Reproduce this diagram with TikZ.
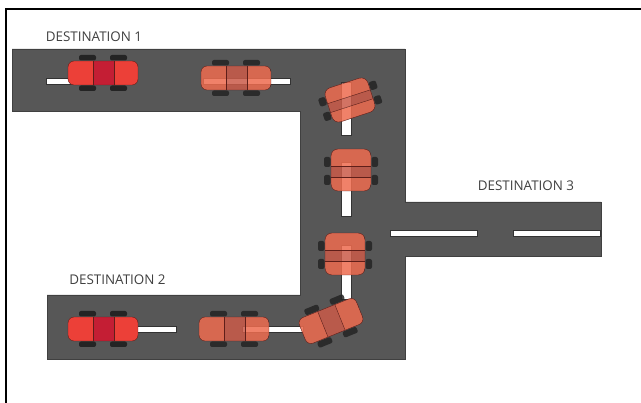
\documentclass[tikz,border=0pt]{standalone}
\usepackage{fontspec}
\setmainfont{Open Sans}

\definecolor{asphalt}{RGB}{87,87,87}
\definecolor{tyre}{RGB}{36,36,36}
\definecolor{redbody}{RGB}{236,64,56}
\definecolor{redmid}{RGB}{196,30,52}
\definecolor{ghostbody}{RGB}{238,108,79}
\definecolor{ghostmid}{RGB}{203,91,73}
\definecolor{carline}{RGB}{95,30,25}

\tikzset{
	% car seen from above, driving sideways
	pics/hcar/.style 2 args={code={
		\foreach \x in {-24,7}{
			\fill[tyre, rounded corners=2pt] (\x,-18) rectangle (\x+17,-12.5);
			\fill[tyre, rounded corners=2pt] (\x,12.5) rectangle (\x+17,18);
		}
		\begin{scope}
			\clip[rounded corners=6pt] (-35,-12) rectangle (35,12);
			\fill[#1] (-35,-12) rectangle (-10,12);
			\fill[#2] (-10,-12) rectangle (11,12);
			\fill[#1] (11,-12) rectangle (35,12);
		\end{scope}
		\draw[carline, thin, rounded corners=6pt] (-35,-12) rectangle (35,12);
		\draw[carline, thin] (-10,-12) -- (-10,12) (11,-12) -- (11,12);
	}},
	% same car, driving up the road
	pics/vcar/.style 2 args={code={
		\foreach \y in {-13,5}{
			\fill[tyre, rounded corners=2pt] (-27,\y) rectangle (-20.5,\y+10);
			\fill[tyre, rounded corners=2pt] (20.5,\y) rectangle (27,\y+10);
		}
		\begin{scope}
			\clip[rounded corners=7pt] (-20,-21) rectangle (20,21);
			\fill[#1] (-20,-21) rectangle (20,-4);
			\fill[#2] (-20,-4) rectangle (20,7);
			\fill[#1] (-20,7) rectangle (20,21);
		\end{scope}
		\draw[carline, thin, rounded corners=7pt] (-20,-21) rectangle (20,21);
		\draw[carline, thin] (-20,-4) -- (20,-4) (-20,7) -- (20,7);
	}}
}

\begin{document}
\begin{tikzpicture}[x=1pt, y=-1pt,
	ghost/.style={fill opacity=0.85},
	lane/.style={fill=white, draw=black!80, line width=0.4pt},
	destlabel/.style={font=\fontsize{13.4}{15}\selectfont, text=black!75}]
	\useasboundingbox (0,0) rectangle (641,403);
	
	%frame
	\draw[line width=1.3pt] (6,403) -- (6,9) -- (641,9);
	
	%road
	\draw[fill=asphalt, draw=black!75, line width=0.6pt] (12,49) -- (405,49) -- (405,202) -- (601,202) -- (601,256) -- (405,256) -- (405,359) -- (47,359) -- (47,295) -- (300,295) -- (300,111) -- (12,111) -- cycle;
	
	%lane marks
	\foreach \xa/\xb/\y in {46/100/81, 203/290/81, 100/176/329, 242/303/329, 390/477/233, 513/600/233}
		\draw[lane] (\xa,\y-3) rectangle (\xb,\y+3);
	\foreach \ya/\yb in {82/135, 162/216, 245/299}
		\draw[lane] (341,\ya) rectangle (351,\yb);
	
	%cars
	\pic (car1) at (103,73) {hcar={redbody}{redmid}};
	\pic[ghost] (car2) at (236,78) {hcar={ghostbody}{ghostmid}};
	\pic[ghost, rotate=18, xscale=1.12, yscale=0.85] (car3) at (350,100) {vcar={ghostbody}{ghostmid}};
	\pic[ghost] (car4) at (351,170) {vcar={ghostbody}{ghostmid}};
	\pic[ghost] (car5) at (345,254) {vcar={ghostbody}{ghostmid}};
	\pic[ghost, rotate=22, xscale=0.88, yscale=1.15] (car6) at (331,321) {hcar={ghostbody}{ghostmid}};
	\pic[ghost] (car7) at (234,329) {hcar={ghostbody}{ghostmid}};
	\pic (car8) at (103,329) {hcar={redbody}{redmid}};
	
	\node[destlabel] (dest1) at (94,37) {DESTINATION 1};
	\node[destlabel] (dest2) at (117.5,280) {DESTINATION 2};
	\node[destlabel] (dest3) at (526,185.5) {DESTINATION 3};
\end{tikzpicture}
\end{document}
